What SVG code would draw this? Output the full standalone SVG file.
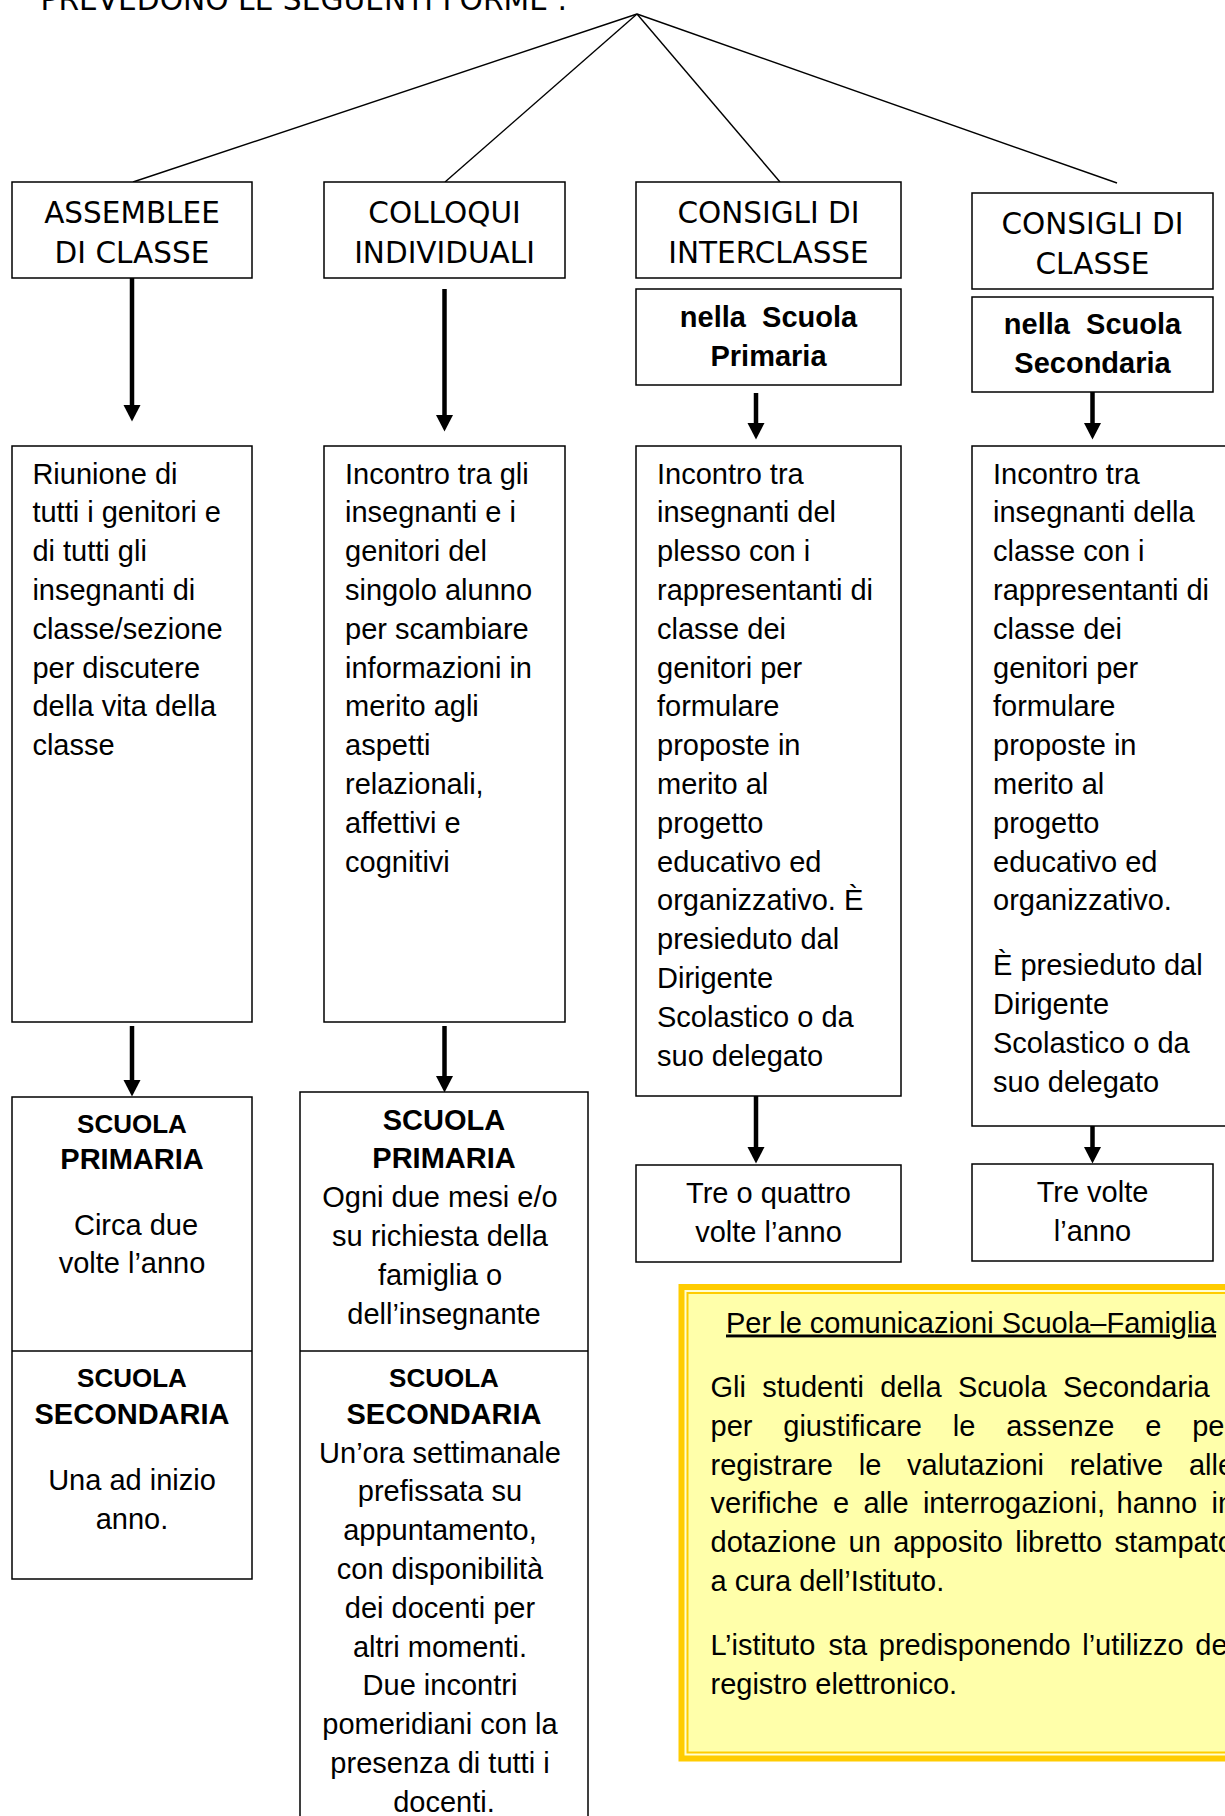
<svg xmlns="http://www.w3.org/2000/svg" width="1225" height="1816" viewBox="0 0 1225 1816">
  <style>
    .box { fill: #ffffff; stroke: #000000; stroke-width: 1.5; }
    .link { stroke: #000000; stroke-width: 1.4; fill: none; }
    .arrow { stroke: #000000; stroke-width: 4.5; fill: none; marker-end: url(#head); }
    .hd { font-family: "DejaVu Sans", Verdana, sans-serif; font-size: 29.5px; fill: #000; text-anchor: middle; }
    .tx { font-family: "Liberation Sans", Arial, sans-serif; font-size: 29px; fill: #000; }
    .c { text-anchor: middle; }
    .b { font-weight: bold; }
    .sm { font-size: 26px; }
  </style>
  <defs>
    <marker id="head" markerUnits="userSpaceOnUse" markerWidth="18" markerHeight="18" refX="0" refY="8.5" orient="auto">
      <path d="M0,0 L16.5,8.5 L0,17 Z" fill="#000000"/>
    </marker>
  </defs>

  <rect width="1225" height="1816" fill="#ffffff"/>

  <!-- heading line, cut by the page top -->
  <text class="hd" x="40.5" y="10" style="text-anchor:start;font-size:29.7px">PREVEDONO LE SEGUENTI FORME :</text>

  <!-- connectors -->
  <g id="connectors">
    <line class="link" x1="637" y1="14" x2="133" y2="182"/>
    <line class="link" x1="637" y1="14" x2="445" y2="182"/>
    <line class="link" x1="637" y1="14" x2="780" y2="182"/>
    <line class="link" x1="637" y1="14" x2="1117" y2="183"/>
    <line class="arrow" x1="132" y1="278" x2="132" y2="405"/>
    <line class="arrow" x1="444.5" y1="289" x2="444.5" y2="415"/>
    <line class="arrow" x1="756" y1="393" x2="756" y2="423"/>
    <line class="arrow" x1="1092.5" y1="392" x2="1092.5" y2="423"/>
    <line class="arrow" x1="132" y1="1026" x2="132" y2="1080"/>
    <line class="arrow" x1="444.5" y1="1026" x2="444.5" y2="1076"/>
    <line class="arrow" x1="756" y1="1093" x2="756" y2="1147"/>
    <line class="arrow" x1="1092.5" y1="1126" x2="1092.5" y2="1147"/>
  </g>

  <!-- column 1 -->
  <g id="assemblee">
    <rect class="box" x="12" y="182" width="240" height="96"/>
    <text class="hd" x="132" y="223.3">ASSEMBLEE</text>
    <text class="hd" x="132" y="263.3">DI CLASSE</text>
  </g>
  <g id="assemblee-desc">
    <rect class="box" x="12" y="446" width="240" height="576"/>
    <text class="tx" x="32.4" y="483.6">
      <tspan x="32.4" y="483.6">Riunione di</tspan>
      <tspan x="32.4" y="522.4">tutti i genitori e</tspan>
      <tspan x="32.4" y="561.2">di tutti gli</tspan>
      <tspan x="32.4" y="600">insegnanti di</tspan>
      <tspan x="32.4" y="638.8">classe/sezione</tspan>
      <tspan x="32.4" y="677.6">per discutere</tspan>
      <tspan x="32.4" y="716.4">della vita della</tspan>
      <tspan x="32.4" y="755.2">classe</tspan>
    </text>
  </g>
  <g id="assemblee-freq">
    <rect class="box" x="12" y="1097" width="240" height="482"/>
    <line class="box" x1="12" y1="1351" x2="252" y2="1351"/>
    <text class="tx c b sm" x="132" y="1133">SCUOLA</text>
    <text class="tx c b" x="132" y="1169">PRIMARIA</text>
    <text class="tx c" x="136" y="1235">Circa due</text>
    <text class="tx c" x="132" y="1273">volte l’anno</text>
    <text class="tx c b sm" x="132" y="1387">SCUOLA</text>
    <text class="tx c b" x="132" y="1424">SECONDARIA</text>
    <text class="tx c" x="132" y="1490">Una ad inizio</text>
    <text class="tx c" x="132" y="1529">anno.</text>
  </g>

  <!-- column 2 -->
  <g id="colloqui">
    <rect class="box" x="324" y="182" width="241" height="96"/>
    <text class="hd" x="444.5" y="223.3">COLLOQUI</text>
    <text class="hd" x="444.5" y="263.3">INDIVIDUALI</text>
  </g>
  <g id="colloqui-desc">
    <rect class="box" x="324" y="446" width="241" height="576"/>
    <text class="tx">
      <tspan x="345" y="483.6">Incontro tra gli</tspan>
      <tspan x="345" y="522.4">insegnanti e i</tspan>
      <tspan x="345" y="561.2">genitori del</tspan>
      <tspan x="345" y="600">singolo alunno</tspan>
      <tspan x="345" y="638.8">per scambiare</tspan>
      <tspan x="345" y="677.6">informazioni in</tspan>
      <tspan x="345" y="716.4">merito agli</tspan>
      <tspan x="345" y="755.2">aspetti</tspan>
      <tspan x="345" y="794">relazionali,</tspan>
      <tspan x="345" y="832.8">affettivi e</tspan>
      <tspan x="345" y="871.6">cognitivi</tspan>
    </text>
  </g>
  <g id="colloqui-freq">
    <rect class="box" x="300" y="1092" width="288" height="740"/>
    <line class="box" x1="300" y1="1351" x2="588" y2="1351"/>
    <text class="tx c b" x="444" y="1129.5">SCUOLA</text>
    <text class="tx c b" x="444" y="1168.4">PRIMARIA</text>
    <text class="tx c" x="444">
      <tspan x="444" y="1207.3">Ogni due mesi e/o</tspan>
      <tspan x="444" y="1246.2">su richiesta della</tspan>
      <tspan x="444" y="1285.1">famiglia o</tspan>
      <tspan x="444" y="1324">dell’insegnante</tspan>
    </text>
    <text class="tx c b sm" x="444" y="1386.5">SCUOLA</text>
    <text class="tx c b" x="444" y="1424">SECONDARIA</text>
    <text class="tx c" x="444">
      <tspan x="444" y="1462.5">Un’ora settimanale</tspan>
      <tspan x="444" y="1501.3">prefissata su</tspan>
      <tspan x="444" y="1540.1">appuntamento,</tspan>
      <tspan x="444" y="1578.9">con disponibilità</tspan>
      <tspan x="444" y="1617.7">dei docenti per</tspan>
      <tspan x="444" y="1656.5">altri momenti.</tspan>
      <tspan x="444" y="1695.3">Due incontri</tspan>
      <tspan x="444" y="1734.1">pomeridiani con la</tspan>
      <tspan x="444" y="1772.9">presenza di tutti i</tspan>
      <tspan x="444" y="1811.7">docenti.</tspan>
    </text>
  </g>

  <!-- column 3 -->
  <g id="interclasse">
    <rect class="box" x="636" y="182" width="265" height="96"/>
    <text class="hd" x="768.5" y="223.3">CONSIGLI DI</text>
    <text class="hd" x="768.5" y="263.3">INTERCLASSE</text>
  </g>
  <g id="interclasse-scope">
    <rect class="box" x="636" y="289" width="265" height="96"/>
    <text class="tx c b" x="768.5" y="327" xml:space="preserve">nella  Scuola</text>
    <text class="tx c b" x="768.5" y="365.5">Primaria</text>
  </g>
  <g id="interclasse-desc">
    <rect class="box" x="636" y="446" width="265" height="650"/>
    <text class="tx">
      <tspan x="657" y="483.6">Incontro tra</tspan>
      <tspan x="657" y="522.4">insegnanti del</tspan>
      <tspan x="657" y="561.2">plesso con i</tspan>
      <tspan x="657" y="600">rappresentanti di</tspan>
      <tspan x="657" y="638.8">classe dei</tspan>
      <tspan x="657" y="677.6">genitori per</tspan>
      <tspan x="657" y="716.4">formulare</tspan>
      <tspan x="657" y="755.2">proposte in</tspan>
      <tspan x="657" y="794">merito al</tspan>
      <tspan x="657" y="832.8">progetto</tspan>
      <tspan x="657" y="871.6">educativo ed</tspan>
      <tspan x="657" y="910.4">organizzativo. È</tspan>
      <tspan x="657" y="949.2">presieduto dal</tspan>
      <tspan x="657" y="988">Dirigente</tspan>
      <tspan x="657" y="1026.8">Scolastico o da</tspan>
      <tspan x="657" y="1065.6">suo delegato</tspan>
    </text>
  </g>
  <g id="interclasse-freq">
    <rect class="box" x="636" y="1165" width="265" height="97"/>
    <text class="tx c" x="768.5" y="1203">Tre o quattro</text>
    <text class="tx c" x="768.5" y="1242">volte l’anno</text>
  </g>

  <!-- column 4 -->
  <g id="classe">
    <rect class="box" x="972" y="193" width="241" height="96"/>
    <text class="hd" x="1092.5" y="234">CONSIGLI DI</text>
    <text class="hd" x="1092.5" y="274">CLASSE</text>
  </g>
  <g id="classe-scope">
    <rect class="box" x="972" y="297" width="241" height="95"/>
    <text class="tx c b" x="1092.5" y="334" xml:space="preserve">nella  Scuola</text>
    <text class="tx c b" x="1092.5" y="372.5">Secondaria</text>
  </g>
  <g id="classe-desc">
    <rect class="box" x="972" y="446" width="262" height="680"/>
    <text class="tx">
      <tspan x="993" y="483.6">Incontro tra</tspan>
      <tspan x="993" y="522.4">insegnanti della</tspan>
      <tspan x="993" y="561.2">classe con i</tspan>
      <tspan x="993" y="600">rappresentanti di</tspan>
      <tspan x="993" y="638.8">classe dei</tspan>
      <tspan x="993" y="677.6">genitori per</tspan>
      <tspan x="993" y="716.4">formulare</tspan>
      <tspan x="993" y="755.2">proposte in</tspan>
      <tspan x="993" y="794">merito al</tspan>
      <tspan x="993" y="832.8">progetto</tspan>
      <tspan x="993" y="871.6">educativo ed</tspan>
      <tspan x="993" y="910.4">organizzativo.</tspan>
      <tspan x="993" y="975.4">È presieduto dal</tspan>
      <tspan x="993" y="1014.2">Dirigente</tspan>
      <tspan x="993" y="1053">Scolastico o da</tspan>
      <tspan x="993" y="1091.8">suo delegato</tspan>
    </text>
  </g>
  <g id="classe-freq">
    <rect class="box" x="972" y="1164" width="241" height="97"/>
    <text class="tx c" x="1092.5" y="1202">Tre volte</text>
    <text class="tx c" x="1092.5" y="1240.5">l’anno</text>
  </g>

  <!-- school-family communication note -->
  <g id="note">
    <rect x="678.5" y="1284" width="588" height="477.5" fill="#FFCC00"/>
    <rect x="684.5" y="1290" width="576" height="465.5" fill="#FFFFD2"/>
    <rect x="686.5" y="1292" width="572" height="461.5" fill="#FFCC00"/>
    <rect x="688.5" y="1294" width="568" height="457.5" fill="#FFFFAA"/>
    <text class="tx" x="726" y="1332.5" text-decoration="underline">Per le comunicazioni Scuola–Famiglia</text>
    <text class="tx">
      <tspan x="710.5" y="1396.7">Gli</tspan>
      <tspan x="762.3" y="1396.7">studenti</tspan>
      <tspan x="880.3" y="1396.7">della</tspan>
      <tspan x="957.9" y="1396.7">Scuola</tspan>
      <tspan x="1063" y="1396.7">Secondaria</tspan>
    </text>
    <text class="tx">
      <tspan x="710.5" y="1435.6">per</tspan>
      <tspan x="783.3" y="1435.6">giustificare</tspan>
      <tspan x="952.8" y="1435.6">le</tspan>
      <tspan x="1006.3" y="1435.6">assenze</tspan>
      <tspan x="1145.2" y="1435.6">e</tspan>
      <tspan x="1192.2" y="1435.6">per</tspan>
    </text>
    <text class="tx">
      <tspan x="710.5" y="1474.5">registrare</tspan>
      <tspan x="858.7" y="1474.5">le</tspan>
      <tspan x="907" y="1474.5">valutazioni</tspan>
      <tspan x="1069.7" y="1474.5">relative</tspan>
      <tspan x="1188.9" y="1474.5">alle</tspan>
    </text>
    <text class="tx">
      <tspan x="710.5" y="1513.4">verifiche</tspan>
      <tspan x="832.9" y="1513.4">e</tspan>
      <tspan x="863.4" y="1513.4">alle</tspan>
      <tspan x="922.9" y="1513.4">interrogazioni,</tspan>
      <tspan x="1116.5" y="1513.4">hanno</tspan>
      <tspan x="1211.5" y="1513.4">in</tspan>
    </text>
    <text class="tx">
      <tspan x="710.5" y="1552.3">dotazione</tspan>
      <tspan x="848.6" y="1552.3">un</tspan>
      <tspan x="893.2" y="1552.3">apposito</tspan>
      <tspan x="1015.2" y="1552.3">libretto</tspan>
      <tspan x="1114.6" y="1552.3">stampato</tspan>
    </text>
    <text class="tx" x="710.5" y="1591.2">a cura dell’Istituto.</text>
    <text class="tx">
      <tspan x="710.5" y="1655">L’istituto</tspan>
      <tspan x="828.5" y="1655">sta</tspan>
      <tspan x="878.8" y="1655">predisponendo</tspan>
      <tspan x="1082.2" y="1655">l’utilizzo</tspan>
      <tspan x="1195.3" y="1655">del</tspan>
    </text>
    <text class="tx" x="710.5" y="1693.9">registro elettronico.</text>
  </g>
</svg>
